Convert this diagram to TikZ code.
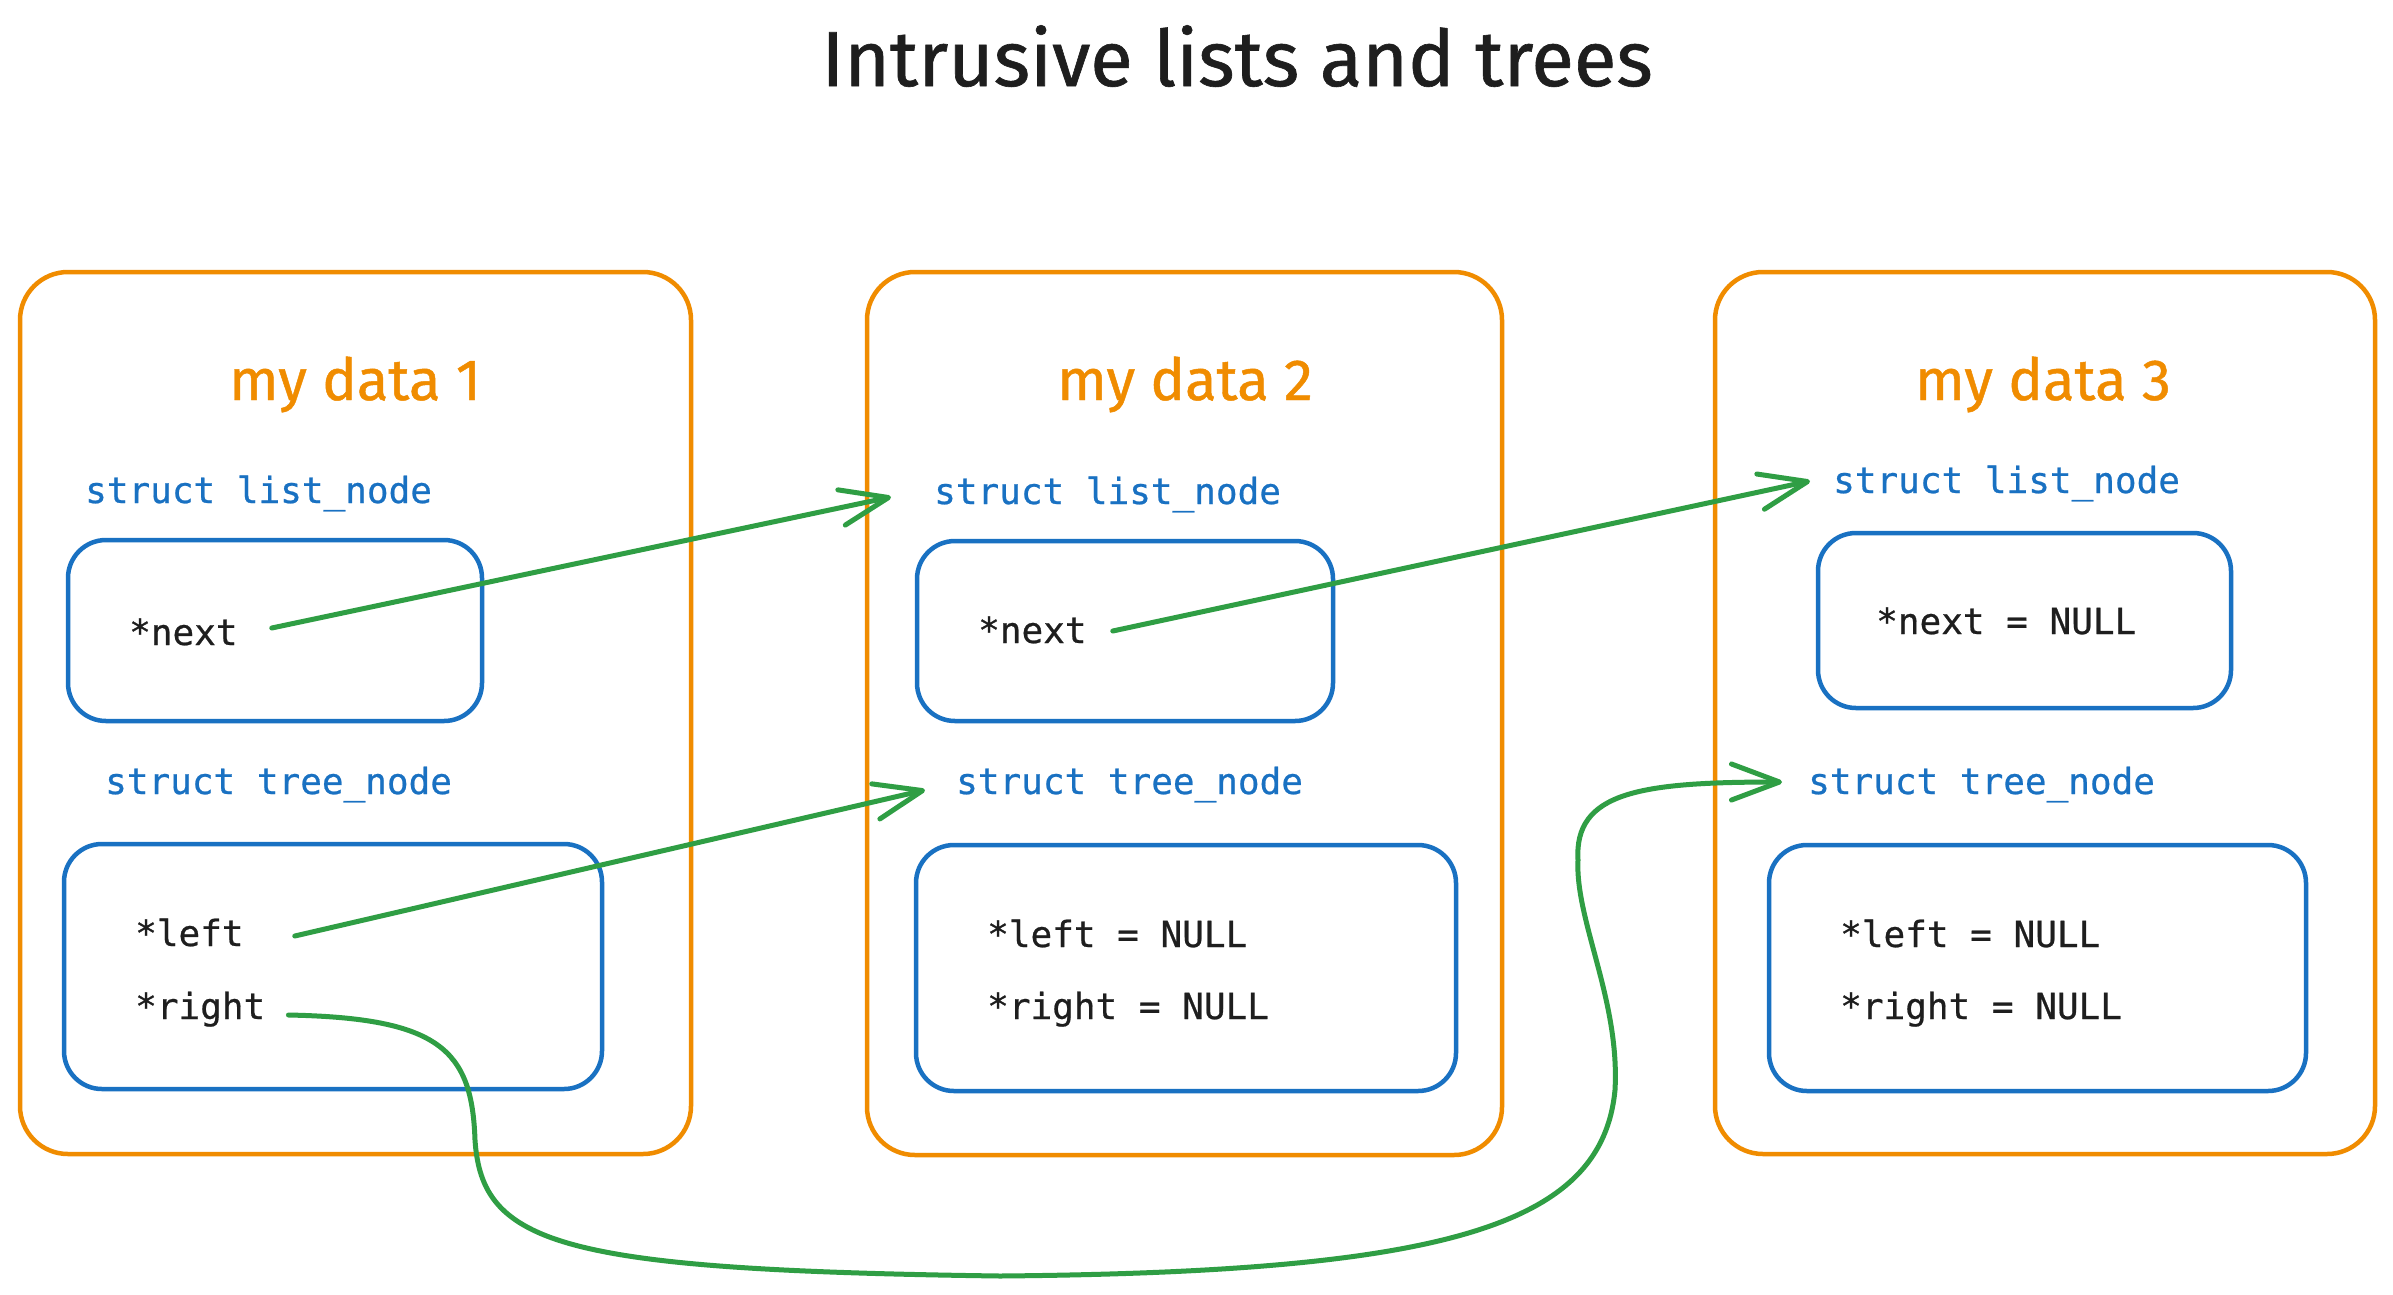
\documentclass[tikz,border=0pt]{standalone}
\usepackage{fontspec}
\setmainfont{Fira Sans}
\newfontfamily\codefont[FakeBold=0.6]{DejaVu Sans Mono}
\newfontfamily\handfont[FakeBold=0.8]{Fira Sans}
\usetikzlibrary{arrows.meta}
\definecolor{exorange}{HTML}{F08C00}
\definecolor{exblue}{HTML}{1971C2}
\definecolor{exgreen}{HTML}{2F9E44}
\definecolor{exink}{HTML}{1E1E1E}
\tikzset{
  outerbox/.style={draw=exorange, line width=4.5pt, rounded corners=48pt, inner sep=0pt},
  innerbox/.style={draw=exblue, line width=4.5pt, rounded corners=38pt, inner sep=0pt},
  titletext/.style={inner sep=0pt, anchor=base, text=exink, font=\handfont\fontsize{78}{90}\selectfont},
  datatext/.style={inner sep=0pt, anchor=base, text=exorange, font=\handfont\fontsize{58}{68}\selectfont},
  structtext/.style={inner sep=0pt, anchor=base west, text=exblue, font=\codefont\fontsize{36}{42}\selectfont},
  fieldtext/.style={inner sep=0pt, anchor=base west, text=exink, font=\codefont\fontsize{36}{42}\selectfont},
  link/.style={draw=exgreen, line width=5pt, line cap=round, line join=round,
    -{Straight Barb[round, length=48pt, width=36pt]}},
}
\begin{document}
\begin{tikzpicture}[x=1pt, y=-1pt]
\useasboundingbox (0,0) rectangle (2393,1294);
\fill[white] (0,0) rectangle (2393,1294);

% title
\node[titletext] (title) at (1237,86) {Intrusive lists and trees};

% outer boxes
\node[outerbox, minimum width=671pt, minimum height=882pt] (ob1) at (355.5,713) {};
\node[outerbox, minimum width=635pt, minimum height=883pt] (ob2) at (1184.5,713.5) {};
\node[outerbox, minimum width=660pt, minimum height=882pt] (ob3) at (2045,713) {};

% data labels
\node[datatext] (d1) at (355,400) {my data 1};
\node[datatext] (d2) at (1185,400) {my data 2};
\node[datatext] (d3) at (2043,400) {my data 3};

% list_node blocks
\node[structtext] (l1) at (85,503) {struct list\_node};
\node[structtext] (l2) at (934,504) {struct list\_node};
\node[structtext] (l3) at (1833,493) {struct list\_node};
\node[innerbox, minimum width=414pt, minimum height=181pt] (lb1) at (275,630.5) {};
\node[innerbox, minimum width=416pt, minimum height=180pt] (lb2) at (1125,631) {};
\node[innerbox, minimum width=413pt, minimum height=175pt] (lb3) at (2024.5,620.5) {};
\node[fieldtext] (n1) at (129,645) {*next};
\node[fieldtext] (n2) at (978,643) {*next};
\node[fieldtext] (n3) at (1876,634) {*next = NULL};

% tree_node blocks
\node[structtext] (t1) at (105,794) {struct tree\_node};
\node[structtext] (t2) at (956,794) {struct tree\_node};
\node[structtext] (t3) at (1808,794) {struct tree\_node};
\node[innerbox, minimum width=538pt, minimum height=245pt] (tb1) at (333,966.5) {};
\node[innerbox, minimum width=540pt, minimum height=246pt] (tb2) at (1186,968) {};
\node[innerbox, minimum width=537pt, minimum height=246pt] (tb3) at (2037.5,968) {};
\node[fieldtext] (lf1) at (135,946) {*left};
\node[fieldtext] (rt1) at (135,1019) {*right};
\node[fieldtext] (lf2) at (987,947) {*left = NULL};
\node[fieldtext] (rt2) at (987,1019) {*right = NULL};
\node[fieldtext] (lf3) at (1840,947) {*left = NULL};
\node[fieldtext] (rt3) at (1840,1019) {*right = NULL};

% links
\draw[link] ([xshift=34pt,yshift=17pt]n1.base east) -- ([xshift=-43pt,yshift=7pt]l2.base west);
\draw[link] ([xshift=26pt,yshift=12pt]n2.base east) -- ([xshift=-23pt,yshift=12pt]l3.base west);
\draw[link] ([xshift=51pt,yshift=10pt]lf1.base east) -- ([xshift=-31pt,yshift=4pt]t2.base west);
\draw[link] ([xshift=23pt,yshift=4pt]rt1.base east)
  .. controls (440,1018) and (472,1050) .. (475,1140)
  .. controls (482,1245) and (560,1270) .. (1000,1276)
  .. controls (1450,1272) and (1602,1225) .. (1615,1090)
  .. controls (1620,1000) and (1575,920) .. (1578,860)
  .. controls (1574,792) and (1640,782) .. ([xshift=-26pt,yshift=12pt]t3.base west);
\end{tikzpicture}
\end{document}
